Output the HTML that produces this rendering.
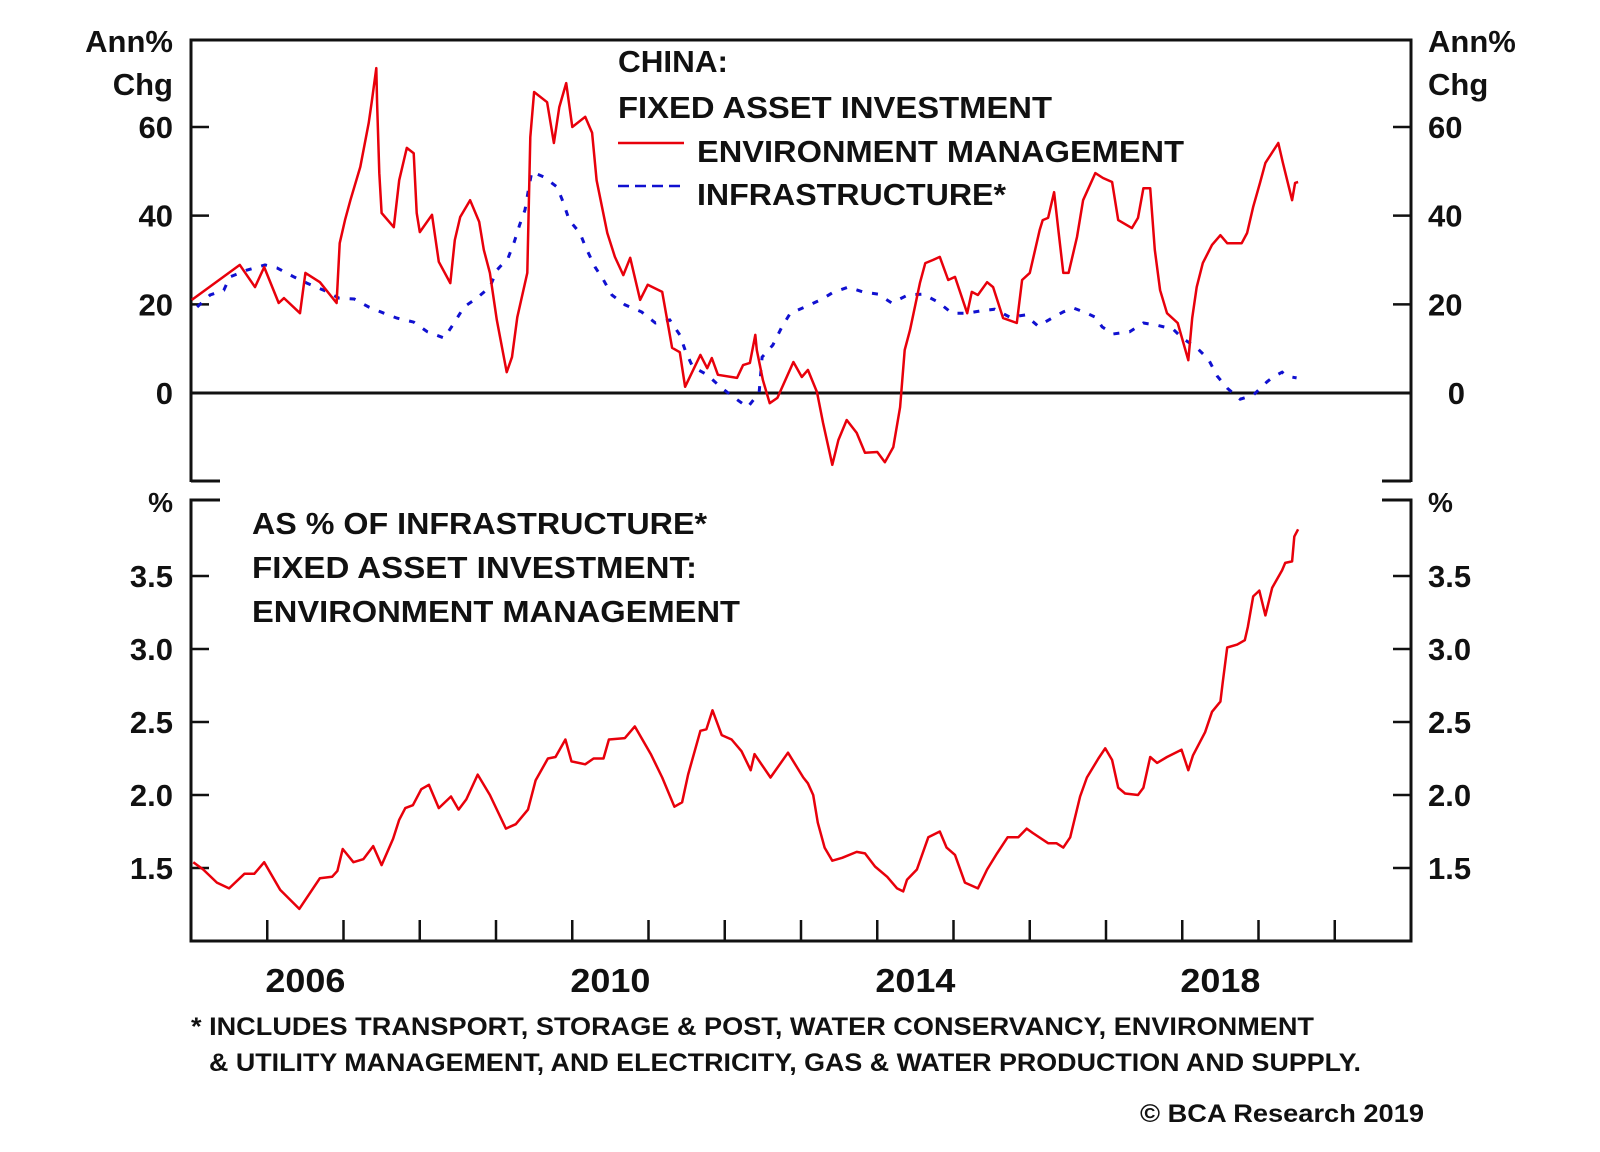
<!DOCTYPE html>
<html><head><meta charset="utf-8"><style>
html,body{margin:0;padding:0;background:#fff;}
svg{display:block;}
text{font-family:"Liberation Sans",Arial,sans-serif;font-weight:bold;fill:#111;}
</style></head><body>
<svg id="chart" width="1600" height="1152" viewBox="0 0 1600 1152">
<g id="frame"></g>
<g id="series"></g>
<g id="labels"></g>
</svg>
<script>
// ---------- DATA ----------
const envDates = [2005.01,2005.64,2005.84,2005.96,2006.15,2006.22,2006.43,2006.50,2006.69,2006.91,2006.95,2007.02,2007.09,2007.22,2007.33,2007.37,2007.43,2007.44,2007.47,2007.50,2007.66,2007.73,2007.83,2007.92,2007.96,2008.00,2008.16,2008.25,2008.40,2008.46,2008.53,2008.66,2008.78,2008.84,2008.92,2009.01,2009.14,2009.21,2009.28,2009.41,2009.45,2009.50,2009.67,2009.76,2009.83,2009.92,2010.00,2010.17,2010.26,2010.32,2010.46,2010.56,2010.67,2010.76,2010.89,2010.99,2011.18,2011.31,2011.41,2011.48,2011.68,2011.77,2011.83,2011.91,2012.16,2012.24,2012.33,2012.40,2012.42,2012.50,2012.59,2012.69,2012.90,2013.01,2013.09,2013.21,2013.29,2013.41,2013.49,2013.60,2013.73,2013.84,2014.00,2014.10,2014.21,2014.30,2014.36,2014.43,2014.56,2014.63,2014.73,2014.82,2014.93,2015.02,2015.18,2015.24,2015.32,2015.44,2015.52,2015.65,2015.83,2015.90,2016.00,2016.13,2016.17,2016.24,2016.32,2016.38,2016.44,2016.51,2016.62,2016.70,2016.86,2016.96,2017.08,2017.16,2017.34,2017.42,2017.49,2017.58,2017.64,2017.71,2017.80,2017.94,2018.08,2018.13,2018.19,2018.27,2018.39,2018.50,2018.59,2018.78,2018.85,2018.93,2019.02,2019.09,2019.26,2019.32,2019.44,2019.48,2019.52];
const envValues = [21.0,28.9,23.9,28.4,20.3,21.4,18.0,27.1,25.0,20.3,33.8,39.0,43.5,51.0,60.9,65.6,73.3,65.4,49.6,40.6,37.4,48.0,55.3,54.1,40.6,36.3,40.2,29.6,24.8,34.5,39.7,43.5,38.6,32.3,27.1,16.5,4.7,8.1,17.1,27.1,57.7,67.9,65.6,56.4,64.5,69.9,60.0,62.3,58.7,48.0,36.1,30.7,26.6,30.5,21.0,24.4,22.8,10.2,9.2,1.4,8.6,5.6,7.9,4.1,3.4,6.3,6.8,13.1,9.7,2.9,-2.3,-1.1,7.0,3.6,5.2,0.2,-6.8,-16.2,-10.6,-6.1,-9.0,-13.5,-13.3,-15.6,-12.2,-3.2,9.7,14.2,24.8,29.3,30.0,30.7,25.5,26.2,18.0,22.8,22.1,25.0,23.9,16.9,15.8,25.5,27.1,36.8,39.0,39.5,45.3,36.1,27.1,27.1,35.2,43.5,49.6,48.5,47.6,39.0,37.2,39.5,46.2,46.2,32.3,23.2,18.0,15.8,7.4,16.9,23.9,29.3,33.4,35.6,33.8,33.8,36.1,42.0,47.4,51.9,56.4,51.9,43.5,47.4,47.6];
const infDates = [2005.08,2005.25,2005.43,2005.51,2005.73,2005.97,2006.13,2006.35,2006.52,2006.74,2006.94,2007.14,2007.33,2007.53,2007.70,2007.92,2008.10,2008.32,2008.45,2008.58,2008.75,2008.92,2009.01,2009.16,2009.24,2009.31,2009.38,2009.42,2009.47,2009.63,2009.80,2009.88,2009.96,2010.10,2010.18,2010.30,2010.41,2010.52,2010.69,2010.91,2011.09,2011.28,2011.41,2011.49,2011.58,2011.77,2011.96,2012.13,2012.30,2012.45,2012.49,2012.63,2012.75,2012.86,2013.08,2013.28,2013.41,2013.62,2013.81,2014.01,2014.19,2014.40,2014.60,2014.80,2014.98,2015.18,2015.35,2015.54,2015.74,2015.94,2016.11,2016.29,2016.44,2016.57,2016.75,2016.86,2016.95,2017.09,2017.31,2017.49,2017.67,2017.88,2018.00,2018.19,2018.34,2018.46,2018.59,2018.76,2018.93,2019.11,2019.19,2019.31,2019.37,2019.50];
const infValues = [19.4,22.1,23.2,26.2,27.7,28.9,28.2,26.2,24.8,23.2,21.4,21.2,19.4,18.0,16.9,16.0,13.8,12.4,15.8,19.4,21.4,23.9,27.7,30.5,34.1,37.9,41.3,45.3,49.9,48.7,46.5,43.1,39.0,36.1,32.7,28.4,25.5,22.1,19.9,18.3,15.8,16.5,13.1,9.2,5.9,4.1,1.1,-1.1,-3.2,0.0,8.1,10.8,14.9,18.0,19.6,21.2,22.6,23.9,22.8,22.3,20.3,22.1,22.3,20.5,18.0,18.0,18.5,18.9,17.1,17.6,15.1,16.9,18.3,19.2,18.0,17.1,14.9,13.3,13.8,15.8,15.3,14.4,12.4,10.2,7.7,3.8,1.1,-1.4,-0.5,2.5,3.6,4.7,3.8,3.4];
const shareDates = [2005.03,2005.16,2005.34,2005.50,2005.70,2005.83,2005.96,2006.17,2006.42,2006.69,2006.85,2006.92,2006.99,2007.13,2007.26,2007.39,2007.50,2007.65,2007.73,2007.81,2007.91,2008.02,2008.12,2008.25,2008.41,2008.51,2008.61,2008.76,2008.92,2009.13,2009.26,2009.42,2009.52,2009.68,2009.78,2009.91,2009.99,2010.17,2010.28,2010.41,2010.48,2010.69,2010.82,2011.03,2011.18,2011.34,2011.44,2011.52,2011.68,2011.76,2011.84,2011.96,2012.09,2012.22,2012.34,2012.39,2012.60,2012.83,2013.03,2013.09,2013.16,2013.22,2013.31,2013.41,2013.54,2013.73,2013.84,2013.97,2014.13,2014.26,2014.34,2014.39,2014.52,2014.67,2014.82,2014.91,2015.02,2015.15,2015.32,2015.44,2015.57,2015.71,2015.85,2015.96,2016.04,2016.24,2016.35,2016.44,2016.53,2016.66,2016.75,2016.90,2016.99,2017.08,2017.16,2017.25,2017.42,2017.49,2017.58,2017.67,2017.80,2017.99,2018.08,2018.14,2018.30,2018.39,2018.50,2018.53,2018.59,2018.72,2018.82,2018.86,2018.93,2019.01,2019.09,2019.18,2019.31,2019.35,2019.44,2019.47,2019.52];
const shareValues = [1.54,1.49,1.40,1.36,1.46,1.46,1.54,1.35,1.22,1.43,1.44,1.48,1.63,1.54,1.56,1.65,1.52,1.70,1.83,1.91,1.93,2.04,2.07,1.91,1.99,1.90,1.97,2.14,2.00,1.77,1.80,1.90,2.10,2.25,2.26,2.38,2.23,2.21,2.25,2.25,2.38,2.39,2.47,2.28,2.12,1.92,1.95,2.14,2.44,2.45,2.58,2.41,2.38,2.30,2.17,2.28,2.12,2.29,2.12,2.08,2.00,1.81,1.64,1.55,1.57,1.61,1.60,1.51,1.44,1.36,1.34,1.42,1.49,1.71,1.75,1.64,1.59,1.40,1.36,1.49,1.60,1.71,1.71,1.77,1.74,1.67,1.67,1.64,1.71,1.99,2.12,2.25,2.32,2.24,2.05,2.01,2.00,2.05,2.26,2.22,2.26,2.31,2.17,2.27,2.43,2.57,2.64,2.77,3.01,3.03,3.06,3.15,3.36,3.40,3.23,3.42,3.54,3.59,3.60,3.77,3.82];
const topTicks = [60,40,20];
const bottomTicks = [3.5,3.0,2.5,2.0,1.5];
const yearLabels = [2006,2010,2014,2018];
const yearTicks = [2006,2007,2008,2009,2010,2011,2012,2013,2014,2015,2016,2017,2018,2019,2020];

// ---------- SCALES ----------
const L=191,R=1411;
function xS(d){return L+(d-2005)*76.25;}
function yTop(v){return 393-v*4.433;}
function yBot(v){return 868-(v-1.5)*146;}
const NS="http://www.w3.org/2000/svg";
function mk(tag,parent,attrs){const e=document.createElementNS(NS,tag);for(const k in attrs)e.setAttribute(k,attrs[k]);parent.appendChild(e);return e;}
const F=document.getElementById('frame'),S=document.getElementById('series'),T=document.getElementById('labels');
function ln(x1,y1,x2,y2,w,name){const e=mk('line',F,{x1:x1,y1:y1,x2:x2,y2:y2,stroke:'#111','stroke-width':w});

return e;}
function tx(str,x,y,size,anchor,name,len){const e=mk('text',T,{x:x,y:y,'font-size':size,'text-anchor':anchor||'start'});
if(len){e.setAttribute('textLength',len);e.setAttribute('lengthAdjust','spacingAndGlyphs');}
e.textContent=str;

return e;}

// frame top panel
ln(L,40,R,40,3,'top-panel-top-border');
ln(L,38.5,L,482,3,'top-panel-left-axis');
ln(R,38.5,R,482,3,'top-panel-right-axis');
ln(L,481,220,481,3,'top-panel-left-stub');
ln(1382,481,R,481,3,'top-panel-right-stub');
ln(L,393,R,393,3,'zero-line');
// frame bottom panel
ln(L,500,220,500,3,'bottom-panel-left-stub');
ln(1382,500,R,500,3,'bottom-panel-right-stub');
ln(L,498.5,L,942.5,3,'bottom-panel-left-axis');
ln(R,498.5,R,942.5,3,'bottom-panel-right-axis');
ln(L,941,R,941,3,'x-axis-line');

topTicks.forEach(v=>{const y=yTop(v);
 ln(L,y,L+18,y,2.5,'top-y-tick-left');ln(R-18,y,R,y,2.5,'top-y-tick-right');
 tx(String(v),173,y+11,31,'end','top-y-tick-label-left');
 tx(String(v),1428,y+11,31,'start','top-y-tick-label-right');});
tx('0',173,393+11,31,'end','top-y-tick-label-left');
tx('0',1465,393+11,31,'end','top-y-tick-label-right');
bottomTicks.forEach(v=>{const y=yBot(v);
 ln(L,y,L+18,y,2.5,'bottom-y-tick-left');ln(R-18,y,R,y,2.5,'bottom-y-tick-right');
 tx(v.toFixed(1),173,y+11,31,'end','bottom-y-tick-label-left');
 tx(v.toFixed(1),1428,y+11,31,'start','bottom-y-tick-label-right');});
yearTicks.forEach(yr=>{const x=xS(yr);ln(x,920,x,941,2.5,'x-tick');});
yearLabels.forEach(yr=>{tx(String(yr),xS(yr+0.5),992,33,'middle','x-tick-label',80);});

// axis unit labels
tx('Ann%',173,52,31,'end','left-unit-ann');
tx('Chg',173,95,31,'end','left-unit-chg');
tx('Ann%',1428,52,31,'start','right-unit-ann');
tx('Chg',1428,95,31,'start','right-unit-chg');
tx('%',173,512,28,'end','left-unit-percent');
tx('%',1428,512,28,'start','right-unit-percent');

// titles / legend
tx('CHINA:',618,72,31,'start','chart-title-country',110);
tx('FIXED ASSET INVESTMENT',618,118,31,'start','chart-title',434);
tx('ENVIRONMENT MANAGEMENT',697,162,31,'start','legend-label-environment',487);
tx('INFRASTRUCTURE*',697,205,31,'start','legend-label-infrastructure',309);
const lr=mk('line',T,{x1:618,y1:143,x2:684,y2:143,stroke:'#e8000b','stroke-width':2.5});


const lb=mk('line',T,{x1:618,y1:186,x2:684,y2:186,stroke:'#1010d0','stroke-width':2.5,'stroke-dasharray':'11,6'});


tx('AS % OF INFRASTRUCTURE*',252,534,31,'start','bottom-title-line1',455);
tx('FIXED ASSET INVESTMENT:',252,578,31,'start','bottom-title-line2',445);
tx('ENVIRONMENT MANAGEMENT',252,622,31,'start','bottom-title-line3',488);

// footnotes
tx('* INCLUDES TRANSPORT,  STORAGE & POST, WATER CONSERVANCY, ENVIRONMENT',191,1035,25,'start','footnote-line1',1123);
tx('& UTILITY MANAGEMENT, AND ELECTRICITY, GAS & WATER PRODUCTION AND SUPPLY.',209,1071,25,'start','footnote-line2',1152);
tx('© BCA Research 2019',1140,1122,25,'start','source-credit',284);

// series
function path(dates,vals,ys){return dates.map((d,i)=>(i?'L':'M')+xS(d).toFixed(1)+','+ys(vals[i]).toFixed(1)).join(' ');}
const pInf=mk('path',S,{d:path(infDates,infValues,yTop),fill:'none',stroke:'#1010d0','stroke-width':3,'stroke-dasharray':'6,10'});


const pEnv=mk('path',S,{d:path(envDates,envValues,yTop),fill:'none',stroke:'#e8000b','stroke-width':2.5,'stroke-linejoin':'round'});


const pShare=mk('path',S,{d:path(shareDates,shareValues,yBot),fill:'none',stroke:'#e8000b','stroke-width':2.5,'stroke-linejoin':'round'});


</script>
</body></html>
